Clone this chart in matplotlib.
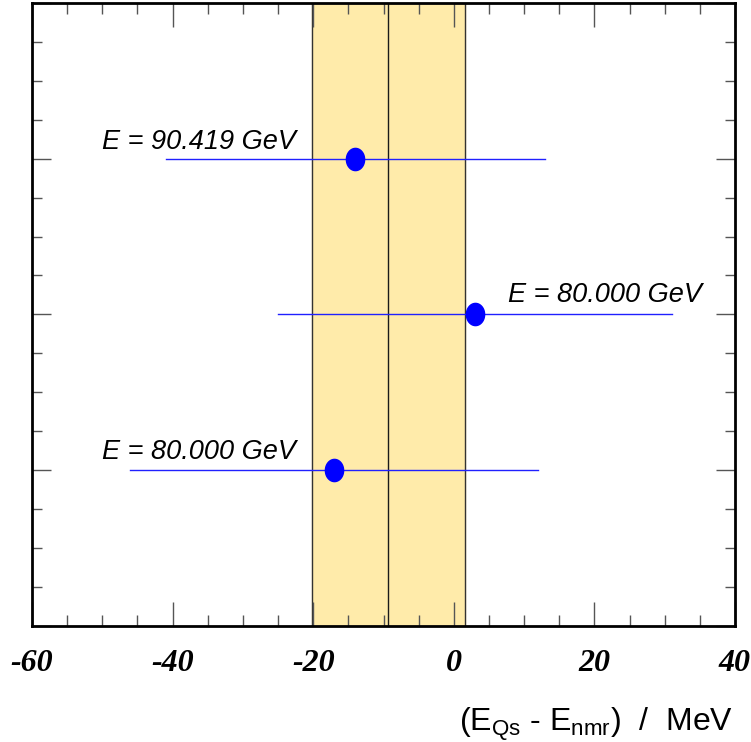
import numpy as np
import matplotlib
matplotlib.use("Agg")
import matplotlib.pyplot as plt
from matplotlib.ticker import MultipleLocator

# ---- data ----
labels = ["E = 80.000 GeV", "E = 80.000 GeV", "E = 90.419 GeV"]
ypos = [1, 2, 3]
centers = [-17.0, 3.0, -14.0]
err_lo = [29.0, 28.0, 27.0]
err_hi = [29.0, 28.0, 27.0]
band_mean = -9.3
band_lo = -20.2
band_hi = 1.6
label_x = [-50.0, 7.7, -50.0]
label_y = [1.07, 2.08, 3.06]
xticks = [-60, -40, -20, 0, 20, 40]

plt.rcParams['mathtext.fontset'] = 'custom'
plt.rcParams['mathtext.rm'] = 'Liberation Sans'
plt.rcParams['mathtext.it'] = 'Liberation Sans:italic'

fig = plt.figure(figsize=(7.51, 7.42), dpi=100)
ax = fig.add_axes([32/751, 116.3/742, 703/751, 622.7/742])
ax.set_xlim(-60, 40)
ax.set_ylim(0, 4)

ax.axvspan(band_lo, band_hi, color='#FFEBAA', zorder=0)
for xv in (band_lo, band_hi):
    ax.axvline(xv, color='#333333', lw=1.0, zorder=1)
ax.axvline(band_mean, color='#1a1a1a', lw=1.0, zorder=1)

t = np.linspace(0, 2*np.pi, 60)
ell = np.column_stack([0.82*np.cos(t), np.sin(t)])
for y, c, lo, hi in zip(ypos, centers, err_lo, err_hi):
    ax.plot([c - lo, c + hi], [y, y], color='#2020ff', lw=1.0, zorder=2)
    ax.plot([c], [y], marker=ell, markersize=16, color='blue', linestyle='none', zorder=3)

for lab, lx, ly in zip(labels, label_x, label_y):
    ax.text(lx, ly, lab, fontsize=19.5, family='Liberation Sans', style='italic',
            ha='left', va='baseline', zorder=4)

ax.xaxis.set_major_locator(MultipleLocator(20))
ax.xaxis.set_minor_locator(MultipleLocator(5))
ax.yaxis.set_major_locator(MultipleLocator(1))
ax.yaxis.set_minor_locator(MultipleLocator(0.25))
ax.set_xticks(xticks)
ax.set_xticklabels([str(v) for v in xticks], fontsize=23, family='Liberation Serif',
                   weight='bold', style='italic')
ax.set_yticklabels([])
ax.tick_params(which='both', direction='in', top=True, right=True, color='#555555', width=1)
ax.tick_params(which='major', axis='x', length=17, pad=17)
ax.tick_params(which='minor', axis='x', length=8)
ax.tick_params(which='major', axis='y', length=14)
ax.tick_params(which='minor', axis='y', length=7)
for s in ax.spines.values():
    s.set_linewidth(2)

fig.text(733/751, 11/742, r"(E$_{\mathrm{Qs}}$ - E$_{\mathrm{nmr}}$)  /  MeV", fontsize=23,
         family='Liberation Sans', ha='right', va='baseline')

fig.savefig("out.png", dpi=100)
